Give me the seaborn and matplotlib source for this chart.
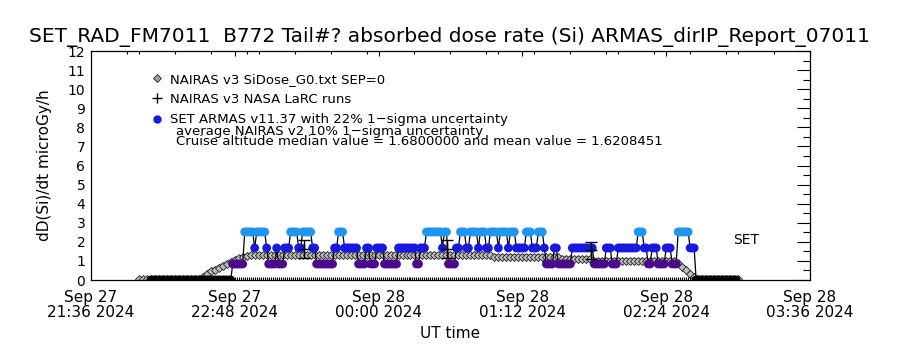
import pandas as pd
import numpy as np
import matplotlib.pyplot as plt
import matplotlib.dates as mdates
from matplotlib.lines import Line2D
import seaborn as sns

# ARMAS dose levels (instrument is quantized)
P, B, L = 0.84, 1.68, 2.52

# SET ARMAS, one sample per minute starting 22:06 UT
armas_start = '2024-09-27 22:06'
armas_dose = [
    0, 0, 0, 0, 0, 0, 0, 0, 0, 0, 0, 0, 0, 0, 0, 0, 0, 0, 0, 0,
    0, 0, 0, 0, 0, 0, 0, 0, 0, 0, 0, 0, 0, 0, 0, 0, 0, 0, 0, 0, 0,
    P, P, P, P, P, P, L, L, L, L, L, B, L, L, L, L, L, B,
    P, P, P, P, B, P, P, P, B, B, B, L, L, L, L, B, B,
    L, L, L, L, L, B, B, P, P, P, P, P, P, P, P, P, B, B,
    L, L, L, B, B, B, B, B, B, B, P, P, P, P, B, B, P, P, P,
    B, B, B, B, P, P, P, P, P, P, P, B, B, B, B, B, B, B, B, B,
    P, P, B, B, B, L, L, L, L, L, L, L, L, B, L, L, P, P, P, P,
    B, B, L, L, L, B, B, L, L, L, L, B, L, L, L, B, B, L, L, L, L,
    B, L, L, L, L, B, L, L, L, B, B, B, B, B, L, L, L, B, B, B,
    L, L, L, B, P, P, P, P, B, B, P, P, P, P, P, P, P,
    B, B, B, B, B, B, B, B, B, B, B, P, P, P, P, P, P, B, B, B,
    P, P, P, B, B, B, B, B, B, B, B, B, B, L, L, L, B, B, P, P,
    B, B, B, P, P, P, P, B, B, B, P, P, P, L, L, L, L, L, L, B, B, B,
    0, 0, 0, 0, 0, 0, 0, 0, 0, 0, 0, 0, 0, 0, 0, 0, 0, 0, 0, 0, 0,
]

# NAIRAS v3 SiDose_G0, one value every 2 minutes starting 22:00 UT
nairas_start = '2024-09-27 22:00'
nairas_dose = [
    0.03, 0.03, 0.03, 0.03, 0.03, 0.03, 0.03, 0.03, 0.03, 0.03, 0.03, 0.03, 0.03, 0.03, 0.03, 0.03,
    0.15, 0.3, 0.45, 0.55, 0.65, 0.75, 0.85, 0.95, 1.05, 1.15, 1.2, 1.25,
    1.3, 1.3, 1.3, 1.3, 1.3, 1.3, 1.3, 1.3, 1.3, 1.3, 1.3, 1.3, 1.3, 1.3, 1.3, 1.3,
    1.3, 1.3, 1.3, 1.3, 1.3, 1.3, 1.3, 1.3, 1.3, 1.3, 1.3, 1.3, 1.3, 1.3, 1.3, 1.3,
    1.3, 1.3, 1.3, 1.3, 1.3, 1.3, 1.3, 1.3, 1.3, 1.3, 1.3, 1.3, 1.3, 1.3,
    1.3, 1.3, 1.3, 1.3, 1.3, 1.3, 1.3, 1.3, 1.3, 1.3, 1.3, 1.3, 1.3, 1.3, 1.3,
    1.2, 1.2, 1.2, 1.2, 1.2, 1.2, 1.2, 1.2, 1.2, 1.2, 1.2, 1.2, 1.2, 1.2, 1.2, 1.2, 1.2,
    1.1, 1.1, 1.1, 1.1, 1.1, 1.1, 1.1, 1.1,
    1.0, 1.0, 1.0, 1.0, 1.0, 1.0, 1.0, 1.0, 1.0, 1.0, 1.0, 1.0, 1.0, 1.0, 1.0, 1.0,
    1.0, 1.0, 1.0, 1.0, 1.0,
    0.9, 0.7, 0.5, 0.3, 0.15,
    0.03, 0.03, 0.03, 0.03, 0.03, 0.03, 0.03, 0.03, 0.03, 0.03, 0.03,
]

# NAIRAS v3 NASA LaRC runs
larc_time = ['2024-09-27 23:22:30', '2024-09-28 00:34:30', '2024-09-28 01:46:30']
larc_dose = [1.62, 1.62, 1.55]
larc_err = [0.47, 0.47, 0.45]

xtick_times = ['2024-09-27 21:36', '2024-09-27 22:48', '2024-09-28 00:00',
               '2024-09-28 01:12', '2024-09-28 02:24', '2024-09-28 03:36']

armas = pd.DataFrame({'time': pd.date_range(armas_start, periods=len(armas_dose), freq='1min'),
                      'dose': armas_dose})
nairas = pd.DataFrame({'time': pd.date_range(nairas_start, periods=len(nairas_dose), freq='2min'),
                       'dose': nairas_dose})
larc = pd.DataFrame({'time': pd.to_datetime(larc_time), 'dose': larc_dose, 'err': larc_err})

level_colors = {0: 'black', P: '#4b0a8c', B: '#1818e0', L: '#1e96f0'}

sns.set_theme(style='white')
plt.rcParams['font.family'] = ['DejaVu Sans']
plt.rcParams['text.color'] = 'black'
plt.rcParams['axes.labelcolor'] = 'black'
plt.rcParams['xtick.color'] = 'black'
plt.rcParams['ytick.color'] = 'black'

fig = plt.figure(figsize=(9, 3.5), dpi=100)
ax = fig.add_axes([0.101, 0.2, 0.799, 0.654])

# NAIRAS model band
ax.plot(nairas['time'], nairas['dose'], color='#8c8c8c', lw=4, solid_capstyle='butt', zorder=2)
ax.plot(nairas['time'], nairas['dose'], ls='none', marker='D', ms=4.5,
        mfc='#bdbdbd', mec='#202020', mew=0.6, zorder=2)

# ARMAS line and level-coloured points
sns.lineplot(data=armas, x='time', y='dose', color='black', lw=0.9, ax=ax, zorder=3)
sns.scatterplot(data=armas, x='time', y='dose', hue='dose', palette=level_colors,
                s=40, linewidth=0, legend=False, ax=ax, zorder=4)
flying = armas[armas['dose'] > 0]
ax.plot(flying['time'], np.zeros(len(flying)), ls='none', marker='|', ms=5,
        mew=0.8, color='black', zorder=4)

# LaRC runs
ax.errorbar(larc['time'], larc['dose'], yerr=larc['err'], fmt='+', color='black',
            ms=8, mew=1, elinewidth=1, capsize=4, zorder=5)

ax.set_xlim(pd.Timestamp(xtick_times[0]), pd.Timestamp(xtick_times[-1]))
ax.set_ylim(0, 12)
ax.set_xticks(pd.to_datetime(xtick_times))
ax.xaxis.set_major_formatter(mdates.DateFormatter('%b %d\n%H:%M %Y'))
ax.xaxis.set_minor_locator(mdates.MinuteLocator(byminute=[0, 18, 36, 54]))
ax.set_yticks(range(0, 13))
ax.yaxis.set_minor_locator(plt.MultipleLocator(0.5))

for side in ax.spines.values():
    side.set_color('black')
    side.set_linewidth(0.9)

ax.tick_params(which='both', direction='in', top=True, right=True, color='black', width=0.8)
ax.tick_params(axis='y', which='major', length=9.5, pad=4, labelsize=10)
ax.tick_params(axis='y', which='minor', length=4.8)
ax.tick_params(axis='x', which='major', length=3.6, pad=7, labelsize=11)
ax.tick_params(axis='x', which='minor', length=2)
for lab in ax.get_xticklabels():
    lab.set_linespacing(1.0)

ax.set_xlabel('UT time', fontsize=11)
ax.xaxis.set_label_coords(0.5, -0.2)
ax.set_ylabel('dD(Si)/dt microGy/h', fontsize=11)
ax.yaxis.set_label_coords(-0.054, 0.5)

fig.text(0.499, 1 - 37 / 350,
         'SET_RAD_FM7011  B772 Tail#? absorbed dose rate (Si) ARMAS_dirIP_Report_07011',
         ha='center', va='center', fontsize=14.5)

handles = [
    Line2D([], [], ls='none', marker='D', ms=4.5, mfc='#a0a0a0', mec='#202020', mew=0.6),
    Line2D([], [], ls='none', marker='+', ms=7, mew=1, color='black'),
    Line2D([], [], ls='none', marker='o', ms=5, color='#1818e0'),
]
labels = ['NAIRAS v3 SiDose_G0.txt SEP=0', 'NAIRAS v3 NASA LaRC runs',
          'SET ARMAS v11.37 with 22% 1\u2212sigma uncertainty']
ax.legend(handles, labels, loc='upper left', bbox_to_anchor=(0.085, 0.905), frameon=False,
          fontsize=9.5, handlelength=0.8, handletextpad=0.6, labelspacing=0.55,
          borderaxespad=0, borderpad=0)
ax.text(0.119, 0.65, 'average NAIRAS v2 10% 1\u2212sigma uncertainty', transform=ax.transAxes,
        fontsize=9.5, va='center')
ax.text(0.119, 0.607, 'Cruise altitude median value = 1.6800000 and mean value = 1.6208451',
        transform=ax.transAxes, fontsize=9.5, va='center')
ax.text(0.893, 0.175, 'SET', transform=ax.transAxes, fontsize=10, va='center')

fig.savefig('out.png', dpi=100)
